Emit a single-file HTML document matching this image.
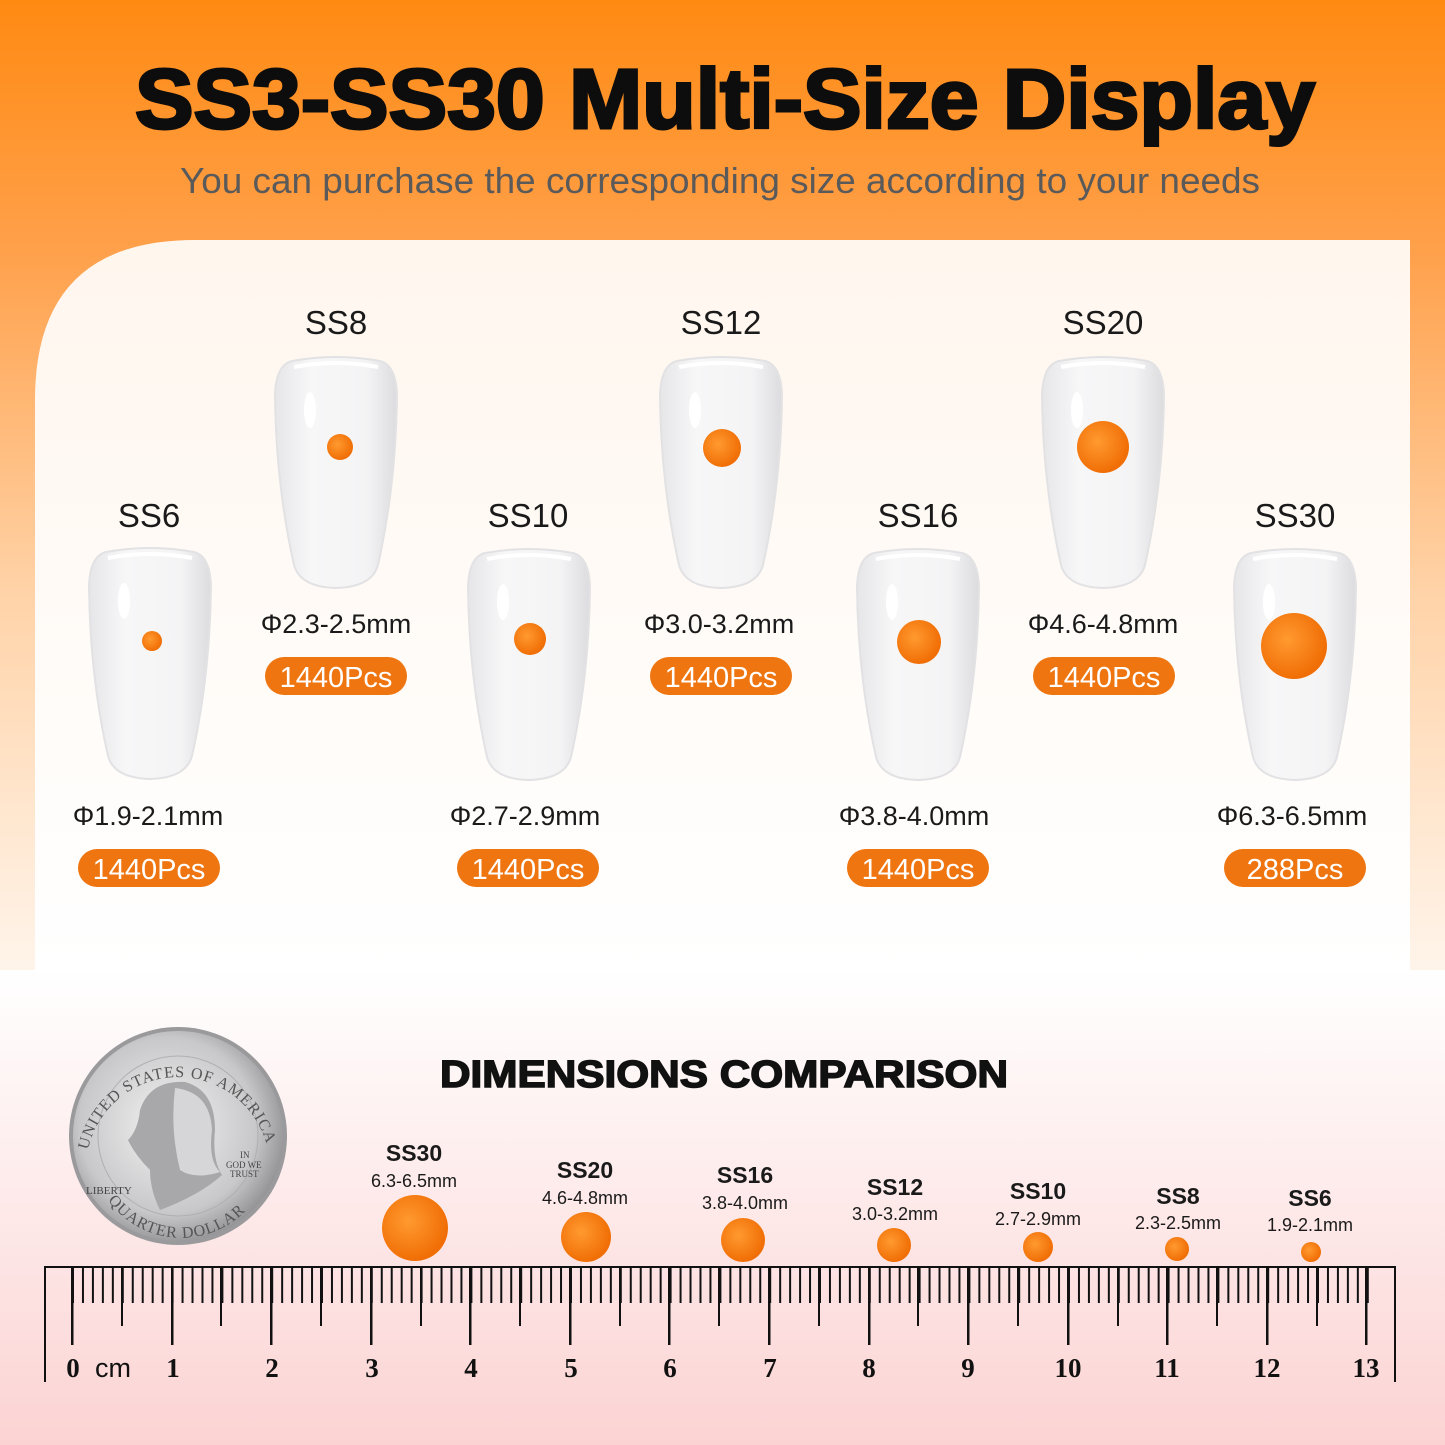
<!DOCTYPE html>
<html><head><meta charset="utf-8"><style>
html,body{margin:0;padding:0;width:1445px;height:1445px;overflow:hidden}
svg{display:block}
</style></head><body>
<svg width="1445" height="1445" viewBox="0 0 1445 1445" xmlns="http://www.w3.org/2000/svg" font-family="Liberation Sans, DejaVu Sans, sans-serif">
<defs>
<linearGradient id="bgtop" x1="0" y1="0" x2="0" y2="1">
<stop offset="0" stop-color="#ff8a12"/><stop offset="0.25" stop-color="#ffa04a"/><stop offset="0.6" stop-color="#ffd3a8"/><stop offset="1" stop-color="#fff6ee"/>
</linearGradient>
<linearGradient id="bgbot" x1="0" y1="0" x2="0" y2="1">
<stop offset="0" stop-color="#ffffff"/><stop offset="1" stop-color="#fcd3d3"/>
</linearGradient>
<linearGradient id="panel" x1="0" y1="0" x2="0" y2="1">
<stop offset="0" stop-color="#fff6ee"/><stop offset="1" stop-color="#ffffff"/>
</linearGradient>
<linearGradient id="nail" x1="0" y1="0" x2="1" y2="0">
<stop offset="0" stop-color="#e6e6e8"/><stop offset="0.3" stop-color="#f7f7f8"/><stop offset="0.75" stop-color="#f4f4f5"/><stop offset="1" stop-color="#dcdcdf"/>
</linearGradient>
<radialGradient id="coin" cx="0.45" cy="0.45" r="0.6">
<stop offset="0" stop-color="#f2f2f2"/><stop offset="0.7" stop-color="#c8c8ca"/><stop offset="1" stop-color="#8a8a8c"/>
</radialGradient>
<radialGradient id="gem" cx="0.4" cy="0.4" r="0.6">
<stop offset="0" stop-color="#ff9a30"/><stop offset="1" stop-color="#f06e05"/>
</radialGradient>
<pattern id="mm" x="72" y="1267" width="9.96" height="36" patternUnits="userSpaceOnUse">
<rect x="0" y="0" width="2" height="36" fill="#111"/>
</pattern>
<symbol id="nailshape" viewBox="0 0 124 234">
<path d="M18 6 Q62 -2 106 6 Q122 10 123 40 Q122 130 104 210 Q98 232 62 233 Q26 232 20 210 Q2 130 1 40 Q2 10 18 6 Z" fill="url(#nail)" stroke="#e2e2e4" stroke-width="2"/>
<path d="M20 12 Q62 4 104 12" fill="none" stroke="#ffffff" stroke-width="4"/>
<ellipse cx="36" cy="55" rx="6" ry="18" fill="#ffffff"/>
</symbol>
</defs>
<rect width="1445" height="990" fill="url(#bgtop)"/>
<rect y="970" width="1445" height="475" fill="url(#bgbot)"/>
<path d="M195 240 L1410 240 L1410 970 L35 970 L35 400 Q35 240 195 240 Z" fill="url(#panel)"/>

<text x="725" y="128" text-anchor="middle" font-size="84" font-weight="bold" fill="#0d0d0d" textLength="1180" lengthAdjust="spacingAndGlyphs" stroke="#0d0d0d" stroke-width="3">SS3-SS30 Multi-Size Display</text>
<text x="720" y="193" text-anchor="middle" font-size="36" fill="#5a5a5a" textLength="1080" lengthAdjust="spacingAndGlyphs">You can purchase the corresponding size according to your needs</text>

<g font-size="33" fill="#1a1a1a" text-anchor="middle">
<text x="149" y="527">SS6</text><text x="336" y="334">SS8</text><text x="528" y="527">SS10</text>
<text x="721" y="334">SS12</text><text x="918" y="527">SS16</text><text x="1103" y="334">SS20</text><text x="1295" y="527">SS30</text>
</g>

<use href="#nailshape" x="88" y="546" width="124" height="234"/>
<use href="#nailshape" x="274" y="355" width="124" height="234"/>
<use href="#nailshape" x="467" y="547" width="124" height="234"/>
<use href="#nailshape" x="659" y="355" width="124" height="234"/>
<use href="#nailshape" x="856" y="547" width="124" height="234"/>
<use href="#nailshape" x="1041" y="355" width="124" height="234"/>
<use href="#nailshape" x="1233" y="547" width="124" height="234"/>

<g fill="url(#gem)">
<circle cx="152" cy="641" r="10"/><circle cx="340" cy="447" r="13"/><circle cx="530" cy="639" r="16"/>
<circle cx="722" cy="448" r="19"/><circle cx="919" cy="642" r="22"/><circle cx="1103" cy="447" r="26"/><circle cx="1294" cy="646" r="33"/>
</g>

<g font-size="27" fill="#1a1a1a" text-anchor="middle">
<text x="148" y="825">Φ1.9-2.1mm</text><text x="336" y="633">Φ2.3-2.5mm</text><text x="525" y="825">Φ2.7-2.9mm</text>
<text x="719" y="633">Φ3.0-3.2mm</text><text x="914" y="825">Φ3.8-4.0mm</text><text x="1103" y="633">Φ4.6-4.8mm</text><text x="1292" y="825">Φ6.3-6.5mm</text>
</g>
<g fill="#ef7510">
<rect x="78" y="849" width="142" height="38" rx="19"/><rect x="265" y="657" width="142" height="38" rx="19"/>
<rect x="457" y="849" width="142" height="38" rx="19"/><rect x="650" y="657" width="142" height="38" rx="19"/>
<rect x="847" y="849" width="142" height="38" rx="19"/><rect x="1033" y="657" width="142" height="38" rx="19"/>
<rect x="1224" y="849" width="142" height="38" rx="19"/>
</g>
<g font-size="29" fill="#fff" text-anchor="middle">
<text x="149" y="879">1440Pcs</text><text x="336" y="687">1440Pcs</text><text x="528" y="879">1440Pcs</text>
<text x="721" y="687">1440Pcs</text><text x="918" y="879">1440Pcs</text><text x="1104" y="687">1440Pcs</text><text x="1295" y="879">288Pcs</text>
</g>

<text x="724" y="1087" text-anchor="middle" font-size="38" font-weight="bold" fill="#111" textLength="568" lengthAdjust="spacingAndGlyphs" stroke="#111" stroke-width="1.5">DIMENSIONS COMPARISON</text>

<circle cx="178" cy="1136" r="109" fill="#9a9a9c"/>
<circle cx="178" cy="1136" r="105" fill="url(#coin)"/>
<circle cx="178" cy="1136" r="80" fill="none" stroke="#b0b0b2" stroke-width="1"/>
<path d="M140 1110 Q150 1080 185 1082 Q215 1090 215 1130 Q212 1160 222 1175 Q200 1195 160 1210 Q150 1190 150 1170 Q135 1155 128 1140 Q138 1130 140 1110 Z" fill="#a8a8aa"/>
<path d="M175 1088 Q210 1092 212 1130 Q208 1160 220 1172 Q195 1180 180 1170 Q170 1130 175 1088 Z" fill="#d6d6d8"/>
<g font-size="11" fill="#444" font-family="Liberation Serif, serif">
<text x="86" y="1194">LIBERTY</text><text x="240" y="1158" font-size="9">IN</text><text x="226" y="1168" font-size="9">GOD WE</text><text x="230" y="1177" font-size="9">TRUST</text>
</g>
<path id="ctop" d="M88 1150 A92 92 0 0 1 268 1150" fill="none"/>
<text font-size="16" fill="#555" font-family="Liberation Serif, serif" letter-spacing="1"><textPath href="#ctop">UNITED STATES OF AMERICA</textPath></text>
<path id="cbot" d="M108 1200 A90 90 0 0 0 258 1195" fill="none"/>
<text font-size="16" fill="#555" font-family="Liberation Serif, serif" letter-spacing="1"><textPath href="#cbot">QUARTER DOLLAR</textPath></text>

<g text-anchor="middle" fill="#1a1a1a">
<g font-size="23" font-weight="bold"><text x="414" y="1161">SS30</text><text x="585" y="1178">SS20</text><text x="745" y="1183">SS16</text><text x="895" y="1195">SS12</text><text x="1038" y="1199">SS10</text><text x="1178" y="1204">SS8</text><text x="1310" y="1206">SS6</text></g>
<g font-size="18"><text x="414" y="1187">6.3-6.5mm</text><text x="585" y="1204">4.6-4.8mm</text><text x="745" y="1209">3.8-4.0mm</text><text x="895" y="1220">3.0-3.2mm</text><text x="1038" y="1225">2.7-2.9mm</text><text x="1178" y="1229">2.3-2.5mm</text><text x="1310" y="1231">1.9-2.1mm</text></g>
</g>
<g fill="url(#gem)">
<circle cx="415" cy="1228" r="33"/><circle cx="586" cy="1237" r="25"/><circle cx="743" cy="1240" r="22"/><circle cx="894" cy="1245" r="17"/><circle cx="1038" cy="1247" r="15"/><circle cx="1177" cy="1249" r="12"/><circle cx="1311" cy="1252" r="10"/>
</g>

<rect x="45" y="1266" width="1350" height="2" fill="#111"/>
<rect x="44" y="1266" width="2" height="116" fill="#111"/>
<rect x="1394" y="1266" width="2" height="116" fill="#111"/>
<rect x="71" y="1267" width="1298" height="36" fill="url(#mm)"/>
<g fill="#111">
<rect x="121" y="1267" width="2" height="59"/><rect x="220" y="1267" width="2" height="59"/><rect x="320" y="1267" width="2" height="59"/><rect x="420" y="1267" width="2" height="59"/><rect x="519" y="1267" width="2" height="59"/><rect x="619" y="1267" width="2" height="59"/><rect x="718" y="1267" width="2" height="59"/><rect x="818" y="1267" width="2" height="59"/><rect x="917" y="1267" width="2" height="59"/><rect x="1017" y="1267" width="2" height="59"/><rect x="1117" y="1267" width="2" height="59"/><rect x="1216" y="1267" width="2" height="59"/><rect x="1316" y="1267" width="2" height="59"/>
<rect x="71" y="1267" width="2.5" height="78"/><rect x="171" y="1267" width="2.5" height="78"/><rect x="270" y="1267" width="2.5" height="78"/><rect x="370" y="1267" width="2.5" height="78"/><rect x="469" y="1267" width="2.5" height="78"/><rect x="569" y="1267" width="2.5" height="78"/><rect x="668" y="1267" width="2.5" height="78"/><rect x="768" y="1267" width="2.5" height="78"/><rect x="868" y="1267" width="2.5" height="78"/><rect x="967" y="1267" width="2.5" height="78"/><rect x="1067" y="1267" width="2.5" height="78"/><rect x="1166" y="1267" width="2.5" height="78"/><rect x="1266" y="1267" width="2.5" height="78"/><rect x="1365" y="1267" width="2.5" height="78"/>
</g>
<g font-family="Liberation Serif, serif" font-weight="bold" font-size="27" fill="#111" text-anchor="middle">
<text x="73" y="1377">0</text><text x="113" y="1377" font-family="Liberation Sans, sans-serif" font-weight="normal">cm</text>
<text x="173" y="1377">1</text><text x="272" y="1377">2</text><text x="372" y="1377">3</text><text x="471" y="1377">4</text><text x="571" y="1377">5</text><text x="670" y="1377">6</text><text x="770" y="1377">7</text><text x="869" y="1377">8</text><text x="968" y="1377">9</text><text x="1068" y="1377">10</text><text x="1167" y="1377">11</text><text x="1267" y="1377">12</text><text x="1366" y="1377">13</text>
</g>
</svg>
</body></html>
